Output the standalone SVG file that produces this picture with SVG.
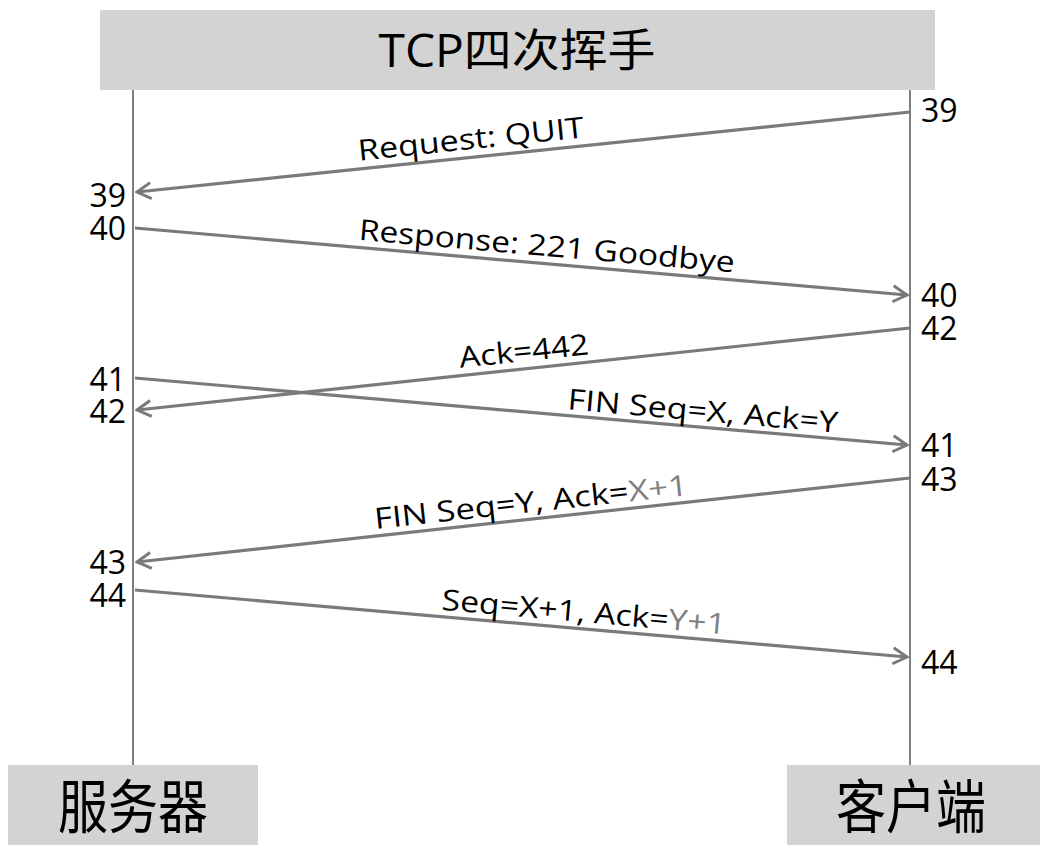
<svg xmlns="http://www.w3.org/2000/svg" width="1045" height="861" viewBox="0 0 1045 861">
<defs>
<style>
.box{fill:#d3d3d3;}
.life{stroke:#808080;stroke-width:2;fill:none;}
.msg{stroke:#7a7a7a;stroke-width:3.2;fill:none;marker-end:url(#arr);}
.lbl{font-family:"Open Sans","Noto Sans",sans-serif;font-size:29px;fill:#000;}
.num{font-family:"Open Sans","Noto Sans",sans-serif;font-size:32px;fill:#000;}
.cjk{font-family:"Noto Sans CJK SC",sans-serif;fill:#000;}
.g{fill:#808080;}
</style>
<marker id="arr" viewBox="0 0 20 20" refX="18" refY="10" markerWidth="20" markerHeight="20" markerUnits="userSpaceOnUse" orient="auto">
<path d="M4,2 L18,10 L4,18" fill="none" stroke="#7a7a7a" stroke-width="3"/>
</marker>
</defs>
<rect width="1045" height="861" fill="#ffffff"/>
<g id="title">
<rect class="box" x="100" y="10" width="835" height="80"/>
<text class="cjk" x="517" y="67" font-size="45" text-anchor="middle" textLength="277" lengthAdjust="spacingAndGlyphs"><tspan font-family="Open Sans,sans-serif">TCP</tspan>四次挥手</text>
</g>
<g id="lifelines">
<line class="life" x1="133" y1="90" x2="133" y2="765"/>
<line class="life" x1="910" y1="90" x2="910" y2="765"/>
</g>
<g id="server">
<rect class="box" x="8" y="765" width="250" height="80"/>
<text class="cjk" x="133" y="828" font-size="58" text-anchor="middle" textLength="150" lengthAdjust="spacingAndGlyphs">服务器</text>
</g>
<g id="client">
<rect class="box" x="787" y="765" width="253" height="80"/>
<text class="cjk" x="911" y="828" font-size="58" text-anchor="middle" textLength="150" lengthAdjust="spacingAndGlyphs">客户端</text>
</g>
<g id="connectors">
<line class="msg" x1="910" y1="112" x2="137" y2="192"/>
<line class="msg" x1="135" y1="228" x2="907" y2="295"/>
<line class="msg" x1="910" y1="328" x2="137" y2="410"/>
<line class="msg" x1="135" y1="378" x2="907" y2="445"/>
<line class="msg" x1="910" y1="478" x2="137" y2="562"/>
<line class="msg" x1="135" y1="590" x2="907" y2="657"/>
</g>
<g id="labels">
<text class="lbl" text-anchor="middle" textLength="227" lengthAdjust="spacingAndGlyphs" transform="translate(472,149) rotate(-5.9)">Request: QUIT</text>
<text class="lbl" text-anchor="middle" textLength="377" lengthAdjust="spacingAndGlyphs" transform="translate(546,256) rotate(4.95)">Response: 221 Goodbye</text>
<text class="lbl" text-anchor="middle" textLength="130" lengthAdjust="spacingAndGlyphs" transform="translate(525,361) rotate(-6.04)">Ack=442</text>
<text class="lbl" text-anchor="middle" textLength="271" lengthAdjust="spacingAndGlyphs" transform="translate(702,421) rotate(4.95)">FIN Seq=X, Ack=Y</text>
<text class="lbl" text-anchor="middle" textLength="315" lengthAdjust="spacingAndGlyphs" transform="translate(532,512) rotate(-6.19)">FIN Seq=Y, Ack=<tspan class="g">X+1</tspan></text>
<text class="lbl" text-anchor="middle" textLength="285" lengthAdjust="spacingAndGlyphs" transform="translate(583,622) rotate(4.95)">Seq=X+1, Ack=<tspan class="g">Y+1</tspan></text>
</g>
<g id="numbers">
<text class="num" x="921" y="122">39</text>
<text class="num" x="126" y="207" text-anchor="end">39</text>
<text class="num" x="126" y="240" text-anchor="end">40</text>
<text class="num" x="921" y="307">40</text>
<text class="num" x="921" y="340">42</text>
<text class="num" x="126" y="391" text-anchor="end">41</text>
<text class="num" x="126" y="423" text-anchor="end">42</text>
<text class="num" x="921" y="457">41</text>
<text class="num" x="921" y="491">43</text>
<text class="num" x="126" y="574" text-anchor="end">43</text>
<text class="num" x="126" y="607" text-anchor="end">44</text>
<text class="num" x="921" y="674">44</text>
</g>
</svg>
